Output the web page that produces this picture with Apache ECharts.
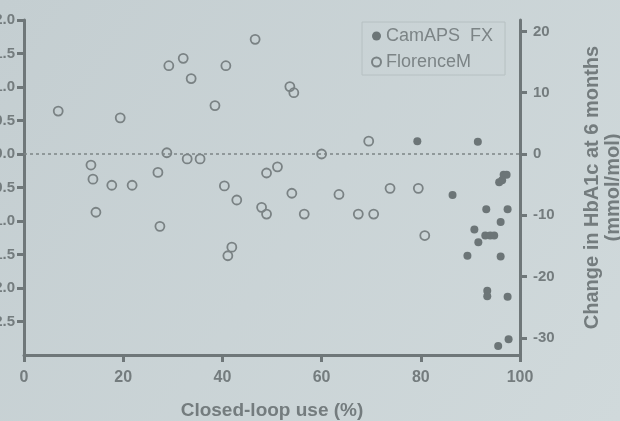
<!DOCTYPE html>
<html>
<head>
<meta charset="utf-8">
<script src="https://cdn.jsdelivr.net/npm/echarts@6/dist/echarts.min.js"></script>
<style>
    html, body { margin: 0; padding: 0; }
    #closedLoopChart { width: 620px; height: 421px; }
</style>
</head>
<body>
<div id="closedLoopChart"></div>
<script>
// CamAPS FX: closed-loop use (%) / change in HbA1c (mmol/mol)
var camapsUse = [79.3, 91.5, 86.4, 96.7, 97.3, 95.8, 96.4, 93.2, 97.5, 96.1, 90.8,
    93.0, 94.0, 94.8, 91.6, 89.4, 96.1, 93.4, 93.4, 97.5, 97.7, 95.6];
var camapsChange = [2.1, 2.0, -6.7, -3.4, -3.4, -4.6, -4.3, -9.0, -9.0, -11.1, -12.3,
    -13.3, -13.3, -13.3, -14.4, -16.6, -16.7, -22.3, -23.2, -23.3, -30.2, -31.3];

// FlorenceM
var florenceUse = [6.9, 19.4, 29.2, 32.1, 33.7, 40.7, 38.5, 46.6, 53.6, 54.4, 28.8,
    13.5, 13.9, 17.7, 21.8, 27.0, 32.9, 35.5, 14.5, 27.4, 60.0, 51.1, 48.9, 40.4,
    42.9, 54.0, 63.5, 47.9, 48.9, 56.5, 41.9, 41.1, 69.5, 73.8, 79.5, 67.4, 70.5, 80.8];
var florenceChange = [7.0, 5.9, 14.4, 15.6, 12.3, 14.4, 7.9, 18.7, 11.0, 10.0, 0.2,
    -1.8, -4.1, -5.1, -5.1, -3.0, -0.8, -0.8, -9.5, -11.8, 0.0, -2.1, -3.1, -5.2,
    -7.5, -6.4, -6.6, -8.7, -9.8, -9.8, -15.2, -16.6, 2.1, -5.6, -5.6, -9.8, -9.8, -13.3];

var mmolTicks = [-30, -20, -10, 0, 10, 20];
var pctRange = [-3, 2];
var mmolPerPct = 10.929;

/**
 * 闭环使用率与 HbA1c 变化散点图
 */
function closedLoopChart() {
    var myChart = echarts.init(document.getElementById('closedLoopChart'));
    var ink = '#6f7779';
    var textInk = '#747c7e';
    var option = {
        backgroundColor: {
            type: 'linear', x: 0, y: 0, x2: 1, y2: 1,
            colorStops: [
                {offset: 0, color: '#c4ced1'},
                {offset: 1, color: '#d0d9db'}
            ]
        },
        animation: false,
        textStyle: {fontFamily: 'Liberation Sans, Arial, sans-serif'},
        grid: {left: 24, right: 100, top: 20, bottom: 66, containLabel: false, outerBoundsMode: 'none'},
        legend: {
            orient: 'vertical',
            left: 362,
            top: 22,
            padding: [5, 12, 4, 9],
            itemGap: 8,
            itemWidth: 9,
            itemHeight: 9,
            borderColor: '#b6c0c2',
            borderWidth: 1,
            textStyle: {color: '#7c8486', fontSize: 18},
            data: ['CamAPS  FX', 'FlorenceM']
        },
        xAxis: {
            type: 'value',
            min: 0,
            max: 100,
            interval: 20,
            name: 'Closed-loop use (%)',
            nameLocation: 'middle',
            nameGap: 46,
            nameTextStyle: {color: textInk, fontSize: 19, fontWeight: 'bold'},
            axisLine: {onZero: false, lineStyle: {color: ink, width: 3}},
            axisTick: {length: 7, lineStyle: {color: ink, width: 3}},
            axisLabel: {color: textInk, fontSize: 16, fontWeight: 'bold', margin: 15},
            splitLine: {show: false}
        },
        yAxis: [
            {
                type: 'value',
                position: 'left',
                min: pctRange[0],
                max: pctRange[1],
                interval: 0.5,
                axisLine: {show: true, onZero: false, lineStyle: {color: ink, width: 3}},
                axisTick: {show: true, length: 7, lineStyle: {color: ink, width: 3}},
                axisLabel: {
                    color: textInk, fontSize: 15, fontWeight: 'bold', margin: 9,
                    showMinLabel: false,
                    formatter: function (v) { return v.toFixed(1); }
                },
                splitLine: {show: false}
            },
            {
                type: 'value',
                position: 'right',
                min: pctRange[0] * mmolPerPct,
                max: pctRange[1] * mmolPerPct,
                name: 'Change in HbA1c at 6 months\n(mmol/mol)',
                nameLocation: 'middle',
                nameGap: 62,
                nameTextStyle: {color: textInk, fontSize: 20, fontWeight: 'bold', lineHeight: 21},
                axisLine: {show: true, onZero: false, lineStyle: {color: ink, width: 3}},
                axisTick: {show: true, length: 7, customValues: mmolTicks, lineStyle: {color: ink, width: 3}},
                axisLabel: {
                    color: textInk, fontSize: 15, fontWeight: 'bold', margin: 13,
                    customValues: mmolTicks
                },
                splitLine: {show: false}
            }
        ],
        series: [
            {
                name: 'CamAPS  FX',
                type: 'scatter',
                yAxisIndex: 1,
                symbol: 'circle',
                symbolSize: 8,
                itemStyle: {color: '#6c7577', opacity: 1},
                data: camapsUse.map(function (x, i) { return [x, camapsChange[i]]; })
            },
            {
                name: 'FlorenceM',
                type: 'scatter',
                yAxisIndex: 1,
                symbol: 'circle',
                symbolSize: 9,
                itemStyle: {color: 'rgba(0,0,0,0)', borderColor: '#7a8284', borderWidth: 1.8, opacity: 1},
                data: florenceUse.map(function (x, i) { return [x, florenceChange[i]]; }),
                markLine: {
                    silent: true,
                    symbol: 'none',
                    label: {show: false},
                    lineStyle: {color: '#7d8587', type: [3, 3], width: 1.5},
                    data: [{yAxis: 0}]
                }
            }
        ]
    };
    myChart.setOption(option, true);
}

closedLoopChart();
</script>
</body>
</html>
